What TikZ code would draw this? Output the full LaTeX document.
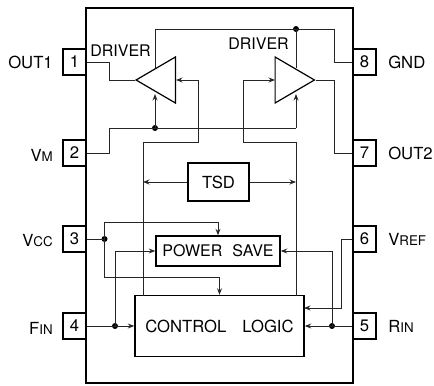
\documentclass[tikz,border=0pt]{standalone}
\usepackage{fontspec}
\setmainfont{TeX Gyre Heros}
\usetikzlibrary{arrows.meta,positioning,calc,shapes.geometric}
\newcommand{\labelfont}{\fontsize{12.5}{15}\selectfont}
\newcommand{\smc}[2]{#1{\fontsize{10}{12}\selectfont #2}}
\tikzset{
  chip/.style={draw=black, line width=1.3pt, minimum width=200pt, minimum height=281.25pt, inner sep=0pt},
  pinbox/.style={draw=black, fill=white, line width=1.3pt, minimum width=17.25pt, minimum height=19.5pt, inner sep=0pt, font=\labelfont},
  pinlabel/.style={font=\labelfont, inner sep=0pt},
  drvlabel/.style={font=\large, inner sep=0pt},
  block/.style={draw=black, line width=1.1pt, inner sep=0pt, font=\labelfont, align=center},
  driver/.style={draw=black, line width=0.9pt, isosceles triangle, isosceles triangle stretches,
                 minimum width=34.5pt, minimum height=29.5pt, inner sep=0pt, anchor=apex},
  wire/.style={draw=black!85, line width=0.65pt},
  arrow/.style={wire, -{Stealth[length=1.7mm,width=1.3mm]}},
  dot/.style={circle, fill=black, minimum size=4.5pt, inner sep=0pt}
}
\begin{document}
\begin{tikzpicture}[x=0.75pt,y=-0.75pt]
  \useasboundingbox (0,0) rectangle (434,385);
  \node[chip] (ic) at (219.5,195.5) {};

  % pins
  \node[pinbox] (p1) at (74.5,62) {1};
  \node[pinbox] (p2) at (74.5,153) {2};
  \node[pinbox] (p3) at (74.5,239) {3};
  \node[pinbox] (p4) at (74.5,326) {4};
  \node[pinbox] (p5) at (364.5,326) {5};
  \node[pinbox] (p6) at (364.5,239) {6};
  \node[pinbox] (p7) at (364.5,153) {7};
  \node[pinbox] (p8) at (364.5,62) {8};

  \node[pinlabel,anchor=east] (l1) at (53,62) {OUT1};
  \node[pinlabel,anchor=east] (l2) at (53,155) {\smc{V}{M}};
  \node[pinlabel,anchor=east] (l3) at (53,241) {\smc{V}{CC}};
  \node[pinlabel,anchor=east] (l4) at (53,328) {\smc{F}{IN}};
  \node[pinlabel,anchor=west] (l5) at (388,326) {\smc{R}{IN}};
  \node[pinlabel,anchor=west] (l6) at (388,239) {\smc{V}{REF}};
  \node[pinlabel,anchor=west] (l7) at (388,153) {OUT2};
  \node[pinlabel,anchor=west] (l8) at (388,62) {GND};

  % blocks
  \node[driver,shape border rotate=180] (drvL) at (134.5,80) {};
  \node[driver] (drvR) at (316,80) {};
  \node[drvlabel] (tL) at (120.5,51) {DRIVER};
  \node[drvlabel] (tR) at (258.5,44) {DRIVER};
  \node[block,minimum width=45.75pt,minimum height=28.5pt] (tsd) at (218.5,182) {TSD};
  \node[block,minimum width=93pt,minimum height=22.5pt,font=\large] (ps) at (218,251) {POWER\hspace{7.5pt}SAVE};
  \node[block,minimum width=126.75pt,minimum height=45.75pt] (ctl) at (219.5,326) {CONTROL\hspace{12pt}LOGIC};

  % junctions
  \node[dot] (jM) at (155,128) {};
  \node[dot] (jG) at (296,29) {};
  \node[dot] (jC) at (104.5,239) {};
  \node[dot] (jF) at (115,326) {};
  \node[dot] (jR) at (332,326) {};

  % free ends on the triangle sides
  \coordinate (dLt) at (155,68);
  \coordinate (dLb) at (155,94);
  \coordinate (dRt) at (296,68);
  \coordinate (dRb) at (296,94);

  \draw[wire] (p1.east) -- (109,62) -- (109,80) -- (drvL.apex);
  \draw[wire] (p2.east) -- (109,153) -- (109,128) -- (296,128);
  \draw[arrow] (jM.center) -- (dLb);
  \draw[arrow] (296,128) -- (dRb);
  \draw[wire] (p8.west) -- (334,62) -- (334,29) -- (155,29) -- (dLt);
  \draw[wire] (jG.center) -- (dRt);
  \draw[wire] (drvR.apex) -- (334,80) -- (334,153) -- (p7.west);

  \draw[arrow] (143,295.5) -- (143,142) -- (198,142) -- (198,80) -- (176,80);
  \draw[arrow] (296,295.5) -- (296,142) -- (243,142) -- (243,80) -- (275,80);
  \draw[arrow] (tsd.west) -- (143,182);
  \draw[arrow] (tsd.east) -- (296,182);

  \draw[wire] (p3.east) -- (jC.center);
  \draw[arrow] (jC.center) -- (104.5,222.5) -| (ps.north);
  \draw[arrow] (jC.center) -- (104.5,277) -| (ctl.north);
  \draw[arrow] (p4.east) -- (ctl.west);
  \draw[arrow] (jF.center) -- (115,251) -- (ps.west);
  \draw[arrow] (p5.west) -- (ctl.east);
  \draw[arrow] (jR.center) -- (332,251) -- (ps.east);
  \draw[arrow] (p6.west) -- (341,239) -- (341,308) -- (304,308);
\end{tikzpicture}
\end{document}
